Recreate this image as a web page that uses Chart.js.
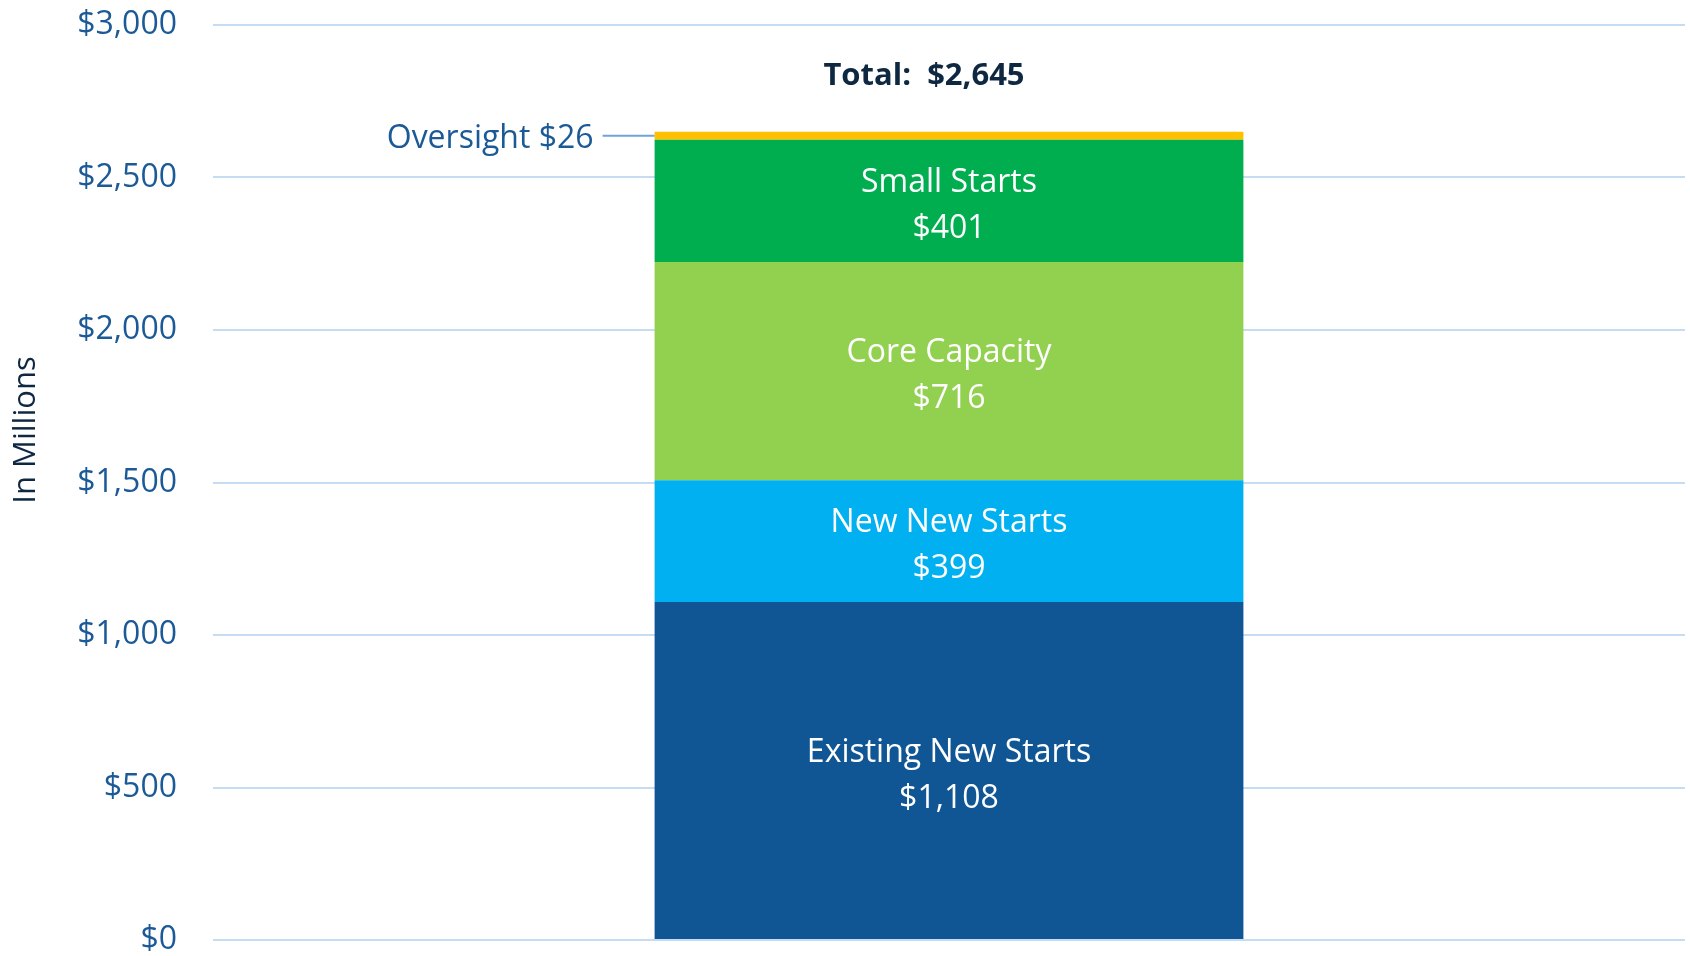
<!DOCTYPE html>
<html>
<head>
<meta charset="utf-8">
<script src="https://cdn.jsdelivr.net/npm/chart.js@4/dist/chart.umd.min.js"></script>
<style>
    body { margin: 0; background: #fff; }
    #wrap { width: 1690px; height: 956px; }
</style>
</head>
<body>
<div id="wrap"><canvas id="fundChart" width="1690" height="956"></canvas></div>
<script>
// データ
const categories = ["FY"];
const segNames = ["Existing New Starts", "New New Starts", "Core Capacity", "Small Starts", "Oversight"];
const segValues = [1108, 399, 716, 401, 26];
const segColors = ["#115694", "#00B0F0", "#92D050", "#00AE4F", "#FFC000"];
const segLabels = ["$1,108", "$399", "$716", "$401", "$26"];
const totalLabel = "Total:  $2,645";
const yTicks = [0, 500, 1000, 1500, 2000, 2500, 3000];

const tickColor = "#1B5A96";
const navy = "#0E2841";
const fontName = "'Open Sans', 'Noto Sans', sans-serif";

// 棒の中のラベルと注記を描く
const labelPlugin = {
    id: "labelPlugin",
    afterDatasetsDraw(chart) {
        const ctx = chart.ctx;
        ctx.save();
        ctx.textBaseline = "middle";
        for (let i = 0; i < segNames.length - 1; i++) {
            const bar = chart.getDatasetMeta(i).data[0];
            const cy = (bar.y + bar.base) / 2;
            ctx.fillStyle = "#ffffff";
            ctx.textAlign = "center";
            ctx.font = "32px " + fontName;
            ctx.fillText(segNames[i], bar.x, cy - 18);
            ctx.fillText(segLabels[i], bar.x, cy + 28);
        }
        // Oversight
        const last = segNames.length - 1;
        const top = chart.getDatasetMeta(last).data[0];
        const left = top.x - top.width / 2;
        const oy = (top.y + top.base) / 2;
        ctx.strokeStyle = "#6FA3DA";
        ctx.lineWidth = 2;
        ctx.beginPath();
        ctx.moveTo(left - 52, oy);
        ctx.lineTo(left, oy);
        ctx.stroke();
        ctx.fillStyle = tickColor;
        ctx.textAlign = "right";
        ctx.font = "32px " + fontName;
        ctx.fillText(segNames[last] + " " + segLabels[last], left - 61, oy + 3);
        // 合計
        ctx.fillStyle = navy;
        ctx.textAlign = "center";
        ctx.font = "bold 31px " + fontName;
        ctx.fillText(totalLabel, top.x - 25, top.y - 56);
        // 縦軸タイトル
        ctx.translate(26, 430);
        ctx.rotate(-Math.PI / 2);
        ctx.font = "31px " + fontName;
        ctx.fillText("In Millions", 0, 0);
        ctx.restore();
    }
};

const datasets = [];
for (let i = 0; i < segNames.length; i++) {
    datasets.push({
        label: segNames[i],
        data: [segValues[i]],
        backgroundColor: segColors[i],
        borderWidth: 0,
        barPercentage: 1,
        categoryPercentage: 0.4
    });
}

new Chart(document.getElementById("fundChart").getContext("2d"), {
    type: "bar",
    data: { labels: categories, datasets: datasets },
    options: {
        responsive: false,
        animation: false,
        layout: { padding: { top: 25, right: 5, bottom: 16, left: 0 } },
        plugins: {
            legend: { display: false },
            tooltip: { enabled: false }
        },
        scales: {
            x: { stacked: true, display: false },
            y: {
                stacked: true,
                min: 0,
                max: 3000,
                afterBuildTicks(scale) {
                    scale.ticks = yTicks.map(v => ({ value: v }));
                },
                afterFit(scale) {
                    scale.width = 213;
                    // ラベル分の余白を消して上下位置を合わせる
                    scale.paddingTop = 0;
                    scale.paddingBottom = 0;
                },
                grid: { color: "#C5DCF2", lineWidth: 2, drawTicks: false },
                border: { display: false },
                ticks: {
                    padding: 36,
                    color: tickColor,
                    font: { family: fontName, size: 32 },
                    callback: v => "$" + v.toLocaleString("en-US")
                }
            }
        }
    },
    plugins: [labelPlugin]
});
</script>
</body>
</html>
